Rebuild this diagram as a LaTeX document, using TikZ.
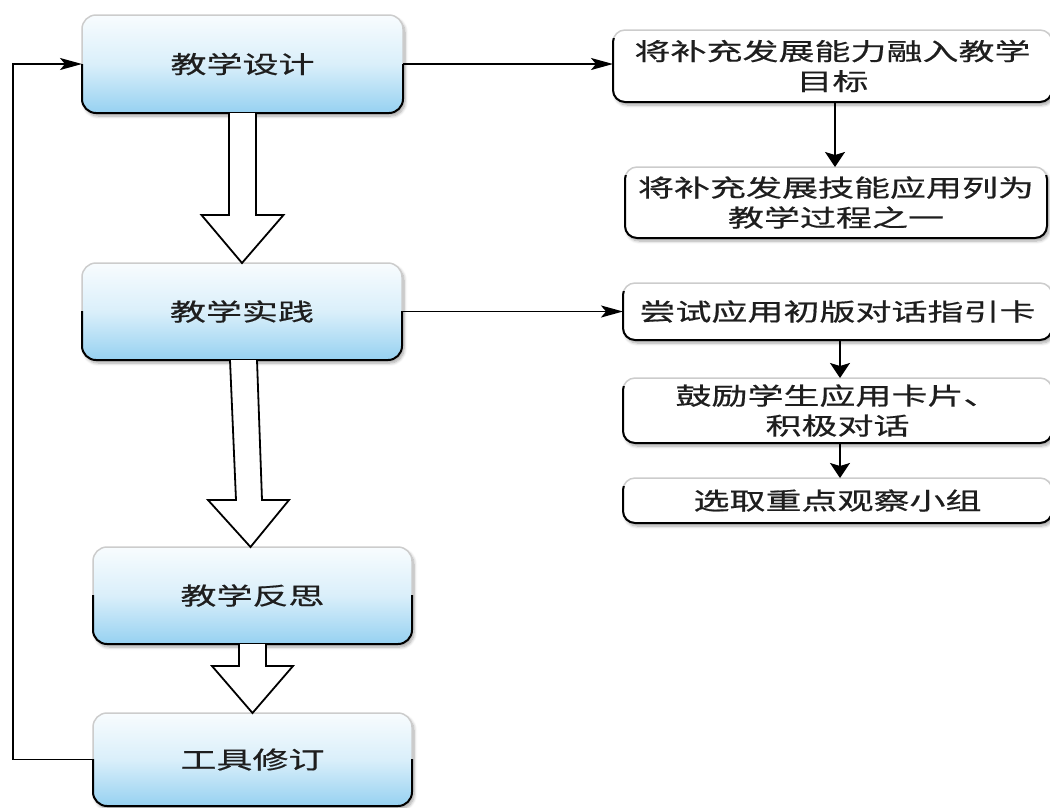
\documentclass[tikz,border=0pt]{standalone}
\usepackage{fontspec}
\newfontfamily\cjk[FakeStretch=1.5,FakeBold=0.6]{Noto Sans CJK SC}
\usetikzlibrary{arrows.meta,calc,shadows.blur}
\definecolor{boxtop}{HTML}{F8FCFE}
\definecolor{boxmid}{HTML}{DAEFFA}
\definecolor{boxbot}{HTML}{96D1F1}
\definecolor{txt}{HTML}{1E1E1E}
\newcommand{\darkedge}[3]{%
  \begin{scope}
  \clip ($(#1.north west)+(-10,#2)$) rectangle ($(#1.south east)+(10,10)$);
  \draw[line width=2pt, rounded corners=#3] (#1.north west) rectangle (#1.south east);
  \end{scope}}
\begin{document}
\begin{tikzpicture}[x=1pt,y=-1pt,
  shad/.style={blur shadow={shadow blur steps=6, shadow xshift=2pt, shadow yshift=-3pt, shadow opacity=35, shadow blur radius=3pt}},
  mainbox/.style={shad, rounded corners=14pt, draw=gray!40, line width=1.5pt,
    top color=boxtop, bottom color=boxbot, middle color=boxmid,
    inner sep=0pt, outer sep=0pt, text=txt,
    font=\cjk\fontsize{24}{30}\selectfont},
  subbox/.style={shad, rounded corners=12pt, draw=gray!40, fill=white, line width=1.5pt,
    inner sep=0pt, outer sep=0pt, align=center, text=txt,
    font=\cjk\fontsize{24}{30}\selectfont},
  hollow/.style={draw=black, line width=1.8pt, fill=white, line join=miter},
  conn/.style={line width=1.8pt},
  harr/.style={-{Stealth[length=22pt,width=12pt,inset=5pt]}},
  varr/.style={-{Stealth[length=15pt,width=20pt,inset=3pt]}},
]
\useasboundingbox (0,0) rectangle (1050,807);

% main column
\node[mainbox, minimum width=321pt, minimum height=98pt] (b1) at (242.5,64) {教学设计};
\node[mainbox, minimum width=320pt, minimum height=97pt] (b2) at (242,311.5) {教学实践};
\node[mainbox, minimum width=319pt, minimum height=97pt] (b3) at (252.5,595.5) {教学反思};
\node[mainbox, minimum width=319pt, minimum height=93pt] (b4) at (252.5,759.5) {工具修订};

% right column
\node[subbox, minimum width=439pt, minimum height=72pt] (A) at (832.5,66) {将补充发展能力融入教学\\目标};
\node[subbox, minimum width=422pt, minimum height=71pt] (B) at (836,202.5) {将补充发展技能应用列为\\教学过程之一};
\node[subbox, minimum width=429pt, minimum height=57pt] (C) at (837.5,311.5) {尝试应用初版对话指引卡};
\node[subbox, minimum width=429pt, minimum height=65pt] (D) at (837.5,410.5) {鼓励学生应用卡片、\\积极对话};
\node[subbox, minimum width=429pt, minimum height=45pt] (E) at (837.5,500.5) {选取重点观察小组};

\darkedge{b1}{49}{14pt}
\darkedge{b2}{48}{14pt}
\darkedge{b3}{48}{14pt}
\darkedge{b4}{46}{14pt}
\darkedge{A}{8}{12pt}
\darkedge{B}{8}{12pt}
\darkedge{C}{8}{12pt}
\darkedge{D}{8}{12pt}
\darkedge{E}{8}{12pt}

% hollow block arrows
\draw[hollow] ($(b1.south)+(-13.5,0)$) -- ($(b1.south)+(-13.5,102)$) -- ($(b1.south)+(-41,102)$)
  -- (b2.north) -- ($(b1.south)+(41,102)$) -- ($(b1.south)+(13.5,102)$) -- ($(b1.south)+(13.5,0)$);
\draw[hollow] ($(b2.south)+(-12,0)$) -- ($(b2.south)+(-6,140)$) -- ($(b2.south)+(-34,140)$)
  -- ($(b3.north)+(-2,0)$) -- ($(b2.south)+(47,140)$) -- ($(b2.south)+(20,140)$) -- ($(b2.south)+(15,0)$);
\draw[hollow] ($(b3.south)+(-13.5,0)$) -- ($(b3.south)+(-13.5,22)$) -- ($(b3.south)+(-40.5,22)$)
  -- (b4.north) -- ($(b3.south)+(40.5,22)$) -- ($(b3.south)+(13.5,22)$) -- ($(b3.south)+(13.5,0)$);

% connectors
\coordinate (loopx) at (13,0);
\draw[conn,harr] (b4.west) -- (b4.west -| loopx) |- (b1.west);
\draw[conn,harr] (b1.east) -- (b1.east -| A.west);
\draw[conn,harr] (b2.east) -- (C.west);
\draw[conn,varr] ($(A.south)+(2.5,0)$) -- ($(B.north)+(-1,0)$);
\draw[conn,varr] ($(C.south)+(2.5,0)$) -- ($(D.north)+(2.5,0)$);
\draw[conn,varr] ($(D.south)+(2.5,0)$) -- ($(E.north)+(2.5,0)$);
\end{tikzpicture}
\end{document}
